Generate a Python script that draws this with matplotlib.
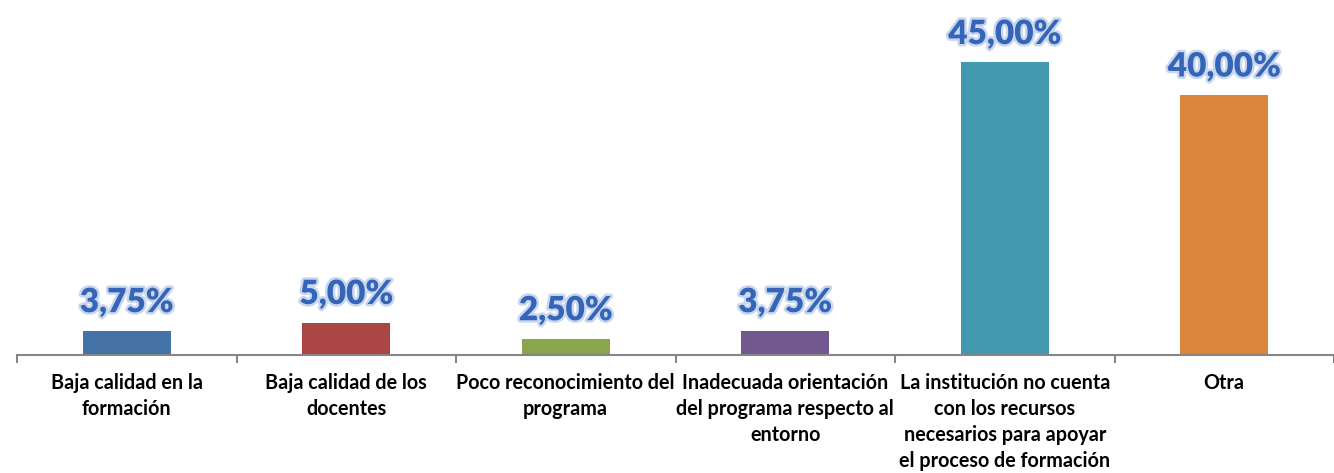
import matplotlib.pyplot as plt
import matplotlib.patheffects as pe
import numpy as np

# categories and percentages
categories = ['Baja calidad en la\nformación',
              'Baja calidad de los\ndocentes',
              'Poco reconocimiento del\nprograma',
              'Inadecuada orientación\ndel programa respecto al\nentorno',
              'La institución no cuenta\ncon los recursos\nnecesarios para apoyar\nel proceso de formación',
              'Otra']
values = [3.75, 5.00, 2.50, 3.75, 45.00, 40.00]
value_labels = ['3,75%', '5,00%', '2,50%', '3,75%', '45,00%', '40,00%']
bar_colors = ['#4572A7', '#AA4643', '#89A54E', '#71588F', '#4198AF', '#DB843D']

fig = plt.figure(figsize=(13.34, 4.73), dpi=100)
ax = fig.add_axes([17/1334, 118/473, (1334-17)/1334, 325/473])

x = np.arange(len(categories))
bars = ax.bar(x, values, width=0.4, color=bar_colors, zorder=2)

# value labels above each bar
for xi, v, lab in zip(x, values, value_labels):
    ax.annotate(lab, (xi, v), xytext=(0, 9), textcoords='offset points',
                ha='center', va='bottom', fontsize=24, fontweight='heavy',
                family='Lato', color='#3565B8',
                path_effects=[pe.withStroke(linewidth=3.5, foreground='#C9D7EE')])

ax.set_xlim(-0.5, -0.5 + (1334 - 17) / 223.4)
ax.set_ylim(0, 50)

for s in ['top', 'right', 'left']:
    ax.spines[s].set_visible(False)
ax.spines['bottom'].set_color('#868686')
ax.spines['bottom'].set_linewidth(1.5)
ax.set_yticks([])

# tick marks between categories, labels centred under bars
ax.set_xticks(x)
ax.set_xticklabels(categories, fontsize=14.2, fontweight='bold', family='Lato',
                   linespacing=1.38, va='top')
ax.tick_params(axis='x', which='major', length=0, pad=13)
ax.set_xticks(np.arange(-0.5, 6, 1), minor=True)
ax.tick_params(axis='x', which='minor', length=6, width=1.5, color='#868686', direction='out')

plt.savefig('out.png', dpi=100)
